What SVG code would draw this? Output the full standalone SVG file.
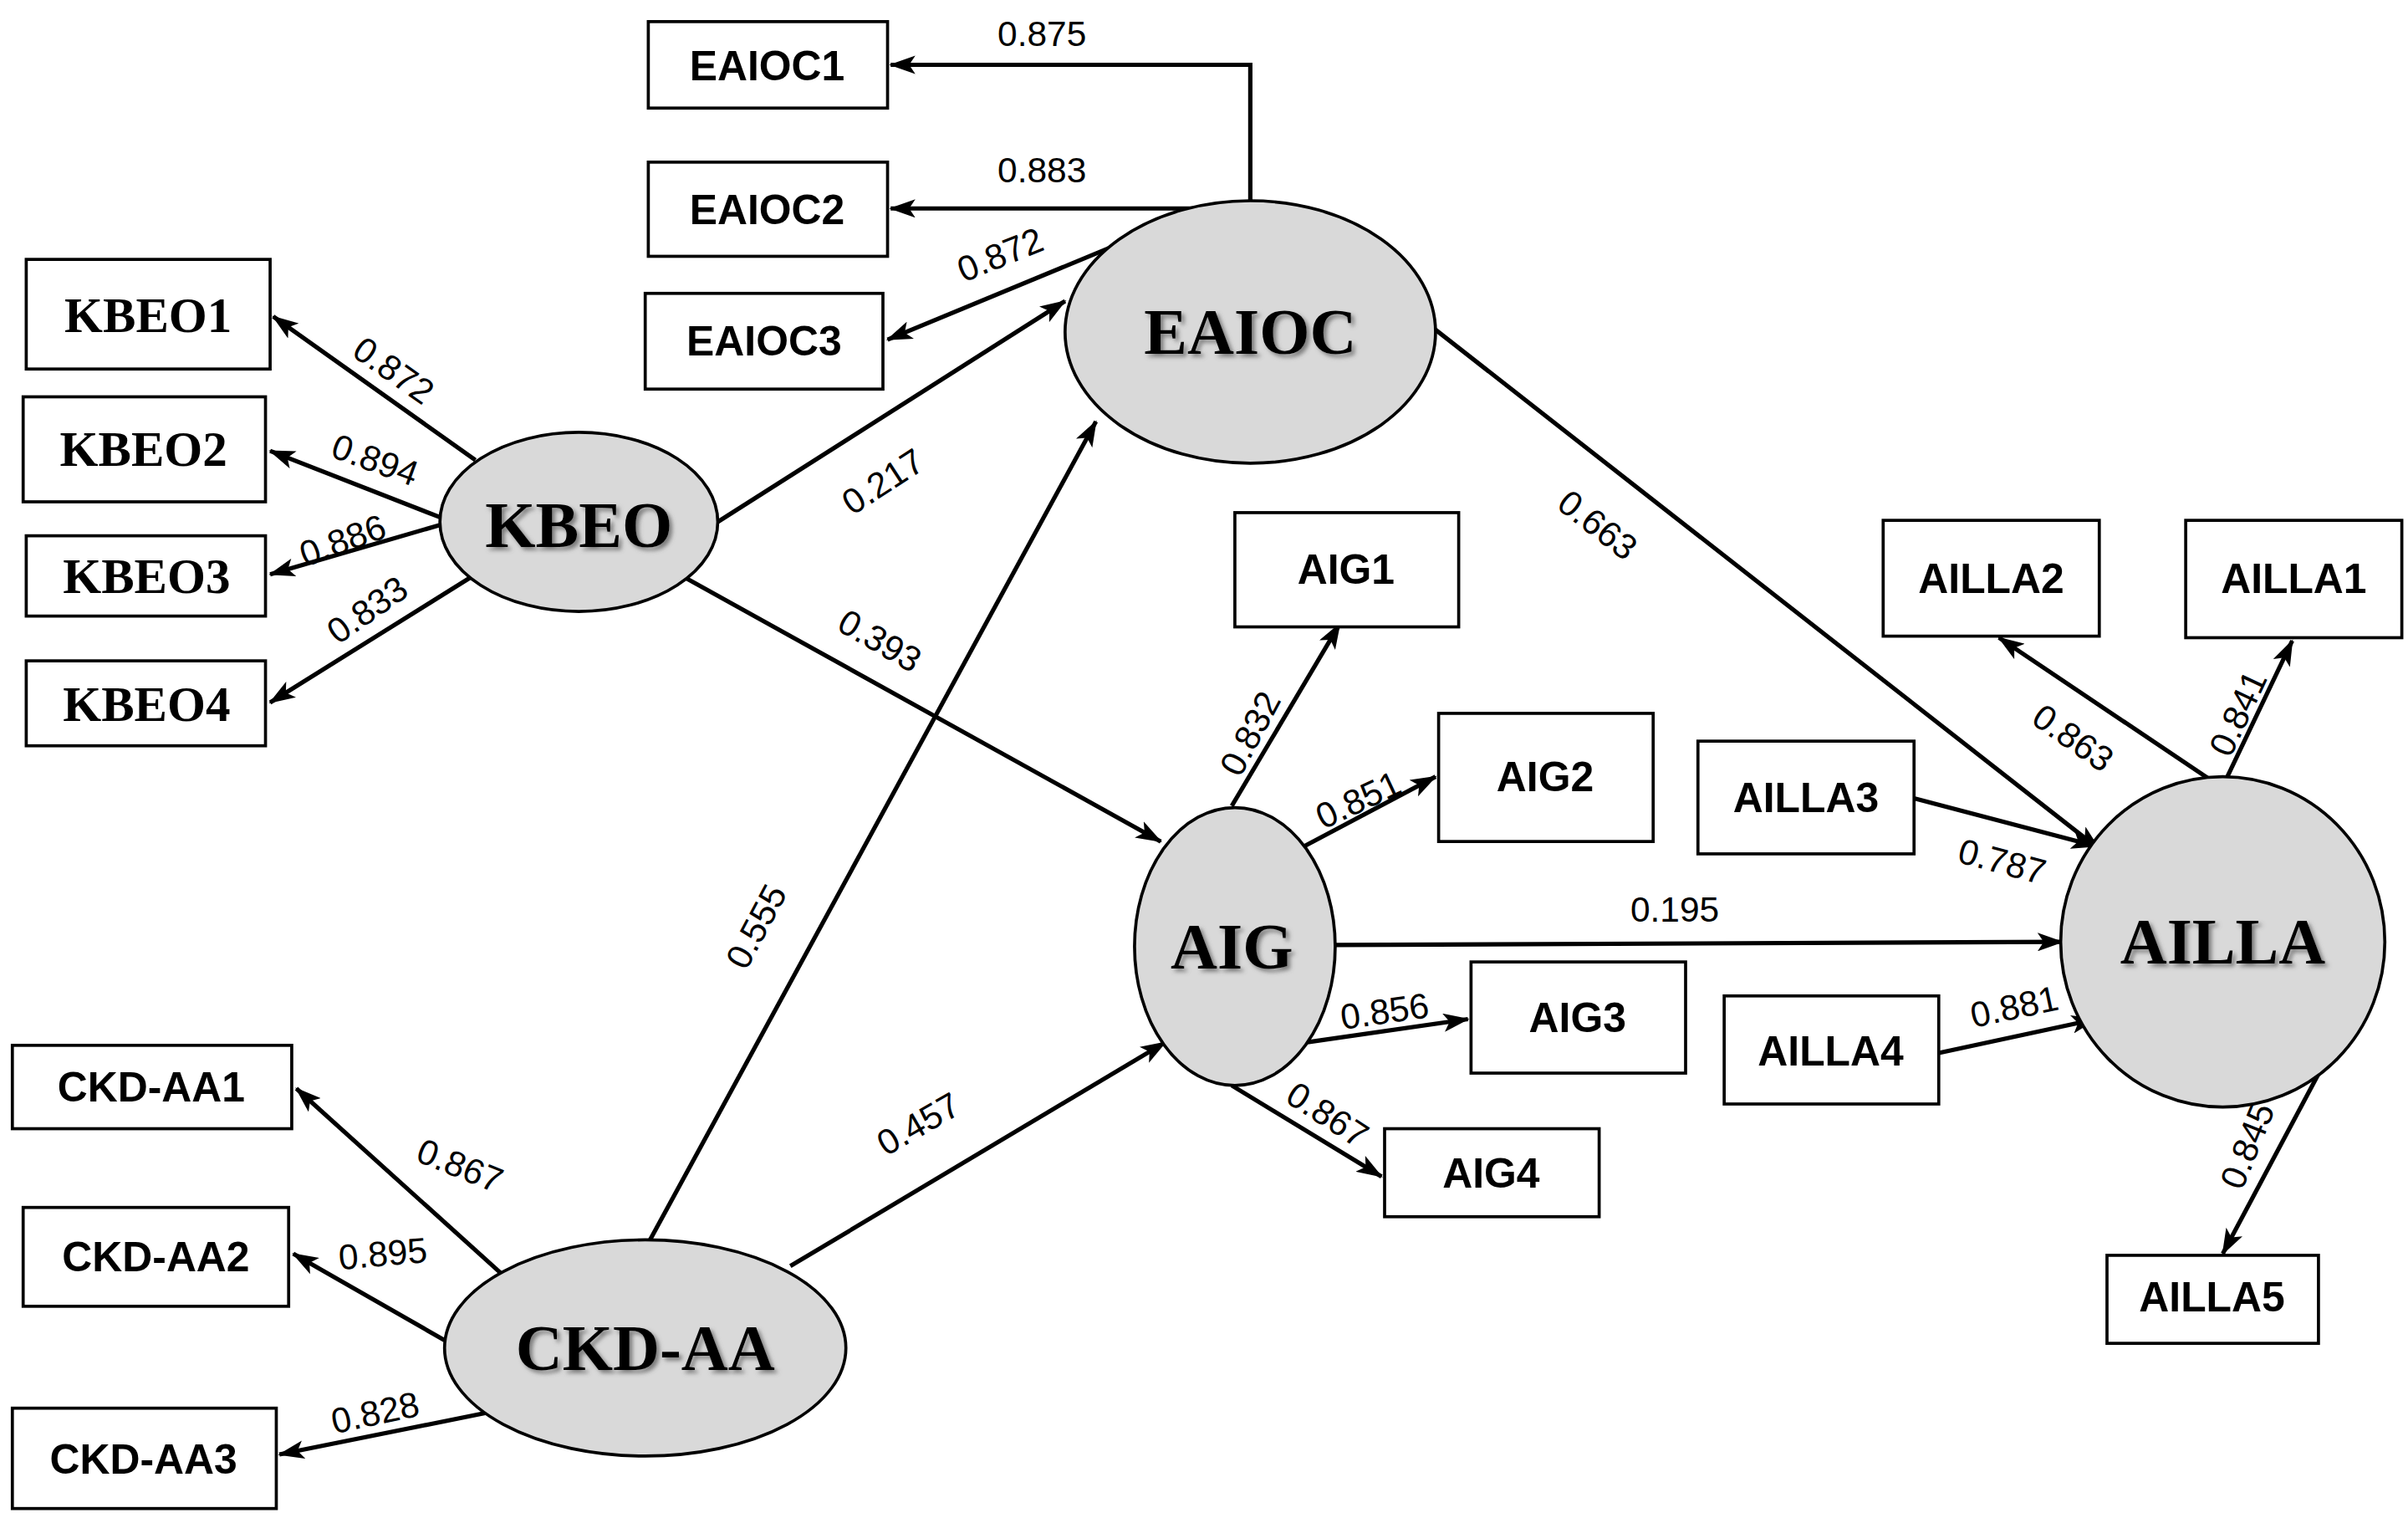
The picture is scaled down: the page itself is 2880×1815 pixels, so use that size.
<svg xmlns="http://www.w3.org/2000/svg" width="2880" height="1815" viewBox="0 0 2880 1815">
<style>
.box{fill:#fff;stroke:#000;stroke-width:2}
.bt{font-family:"Liberation Sans",Arial,sans-serif;font-weight:bold;font-size:27px;text-anchor:middle;dominant-baseline:central}
.bs{font-family:"Liberation Serif","Times New Roman",serif;font-weight:bold;font-size:32px;text-anchor:middle;dominant-baseline:central}
.ell{fill:#d9d9d9;stroke:#000;stroke-width:2}
.et{font-family:"Liberation Serif","Times New Roman",serif;font-weight:bold;font-size:42px;text-anchor:middle;dominant-baseline:central;filter:url(#sh)}
.c{stroke:#000;stroke-width:2.8;fill:none;marker-end:url(#ah)}
.l{font-family:"Liberation Sans",Arial,sans-serif;font-size:23px;text-anchor:middle;dominant-baseline:central}
</style>
<defs>
<marker id="ah" markerUnits="userSpaceOnUse" markerWidth="18" markerHeight="12" refX="16" refY="6" orient="auto"><path d="M0,0 L17,6 L0,12 L4,6 Z" fill="#000"/></marker>
<filter id="sh" x="-10%" y="-10%" width="130%" height="130%"><feDropShadow dx="2" dy="2" stdDeviation="1.5" flood-color="#555" flood-opacity="0.7"/></filter>
</defs>
<rect width="2880" height="1815" fill="#fff"/>
<g transform="scale(1.84615)">
<g id="connectors">
<path class="c" d="M810,135 L810,42 L577,42"/>
<path class="c" d="M810,135 L577,135"/>
<path class="c" d="M725,158 L575,220"/>
<path class="c" d="M308,298 L177,205"/>
<path class="c" d="M285,335 L175,292"/>
<path class="c" d="M285,340 L175,372"/>
<path class="c" d="M308,372 L175,455"/>
<path class="c" d="M465,338 L690,195"/>
<path class="c" d="M440,372 L752,545"/>
<path class="c" d="M420,805 L710,273"/>
<path class="c" d="M512,820 L755,675"/>
<path class="c" d="M325,825 L192,705"/>
<path class="c" d="M288,868 L190,812"/>
<path class="c" d="M315,915 L181,942"/>
<path class="c" d="M798,522 L868,404"/>
<path class="c" d="M845,548 L930,503"/>
<path class="c" d="M847,675 L951,660"/>
<path class="c" d="M798,703 L895,762"/>
<path class="c" d="M865,612 L1336,610"/>
<path class="c" d="M928,212 L1360,550"/>
<path class="c" d="M1240,517 L1358,548"/>
<path class="c" d="M1256,682 L1358,660"/>
<path class="c" d="M1432,505 L1295,413"/>
<path class="c" d="M1442,505 L1485,415"/>
<path class="c" d="M1522,658 L1440,812"/>
<text class="l" x="675" y="22">0.875</text>
<text class="l" x="675" y="110">0.883</text>
<text class="l" transform="translate(648,165) rotate(-22)">0.872</text>
<text class="l" transform="translate(255,240) rotate(35)">0.872</text>
<text class="l" transform="translate(243,298) rotate(20)">0.894</text>
<text class="l" transform="translate(222,350) rotate(-20)">0.886</text>
<text class="l" transform="translate(238,395) rotate(-35)">0.833</text>
<text class="l" transform="translate(572,312) rotate(-33)">0.217</text>
<text class="l" transform="translate(570,415) rotate(30)">0.393</text>
<text class="l" transform="translate(490,600) rotate(-62)">0.555</text>
<text class="l" transform="translate(595,728) rotate(-30)">0.457</text>
<text class="l" transform="translate(298,755) rotate(22)">0.867</text>
<text class="l" transform="translate(248,812) rotate(-5)">0.895</text>
<text class="l" transform="translate(243,915) rotate(-12)">0.828</text>
<text class="l" transform="translate(810,475) rotate(-62)">0.832</text>
<text class="l" transform="translate(880,518) rotate(-25)">0.851</text>
<text class="l" transform="translate(897,655) rotate(-8)">0.856</text>
<text class="l" transform="translate(860,722) rotate(33)">0.867</text>
<text class="l" x="1085" y="589">0.195</text>
<text class="l" transform="translate(1035,340) rotate(38)">0.663</text>
<text class="l" transform="translate(1297,558) rotate(15)">0.787</text>
<text class="l" transform="translate(1305,652) rotate(-12)">0.881</text>
<text class="l" transform="translate(1343,478) rotate(35)">0.863</text>
<text class="l" transform="translate(1450,462) rotate(-65)">0.841</text>
<text class="l" transform="translate(1456,742) rotate(-68)">0.845</text>
</g>
<g id="EAIOC1"><rect class="box" x="420" y="14" width="155" height="56"/><text class="bt" x="497" y="43">EAIOC1</text></g>
<g id="EAIOC2"><rect class="box" x="420" y="105" width="155" height="61"/><text class="bt" x="497" y="136">EAIOC2</text></g>
<g id="EAIOC3"><rect class="box" x="418" y="190" width="154" height="62"/><text class="bt" x="495" y="221">EAIOC3</text></g>
<g id="KBEO1"><rect class="box" x="17" y="168" width="158" height="71"/><text class="bs" x="96" y="204">KBEO1</text></g>
<g id="KBEO2"><rect class="box" x="15" y="257" width="157" height="68"/><text class="bs" x="93" y="291">KBEO2</text></g>
<g id="KBEO3"><rect class="box" x="17" y="347" width="155" height="52"/><text class="bs" x="95" y="373">KBEO3</text></g>
<g id="KBEO4"><rect class="box" x="17" y="428" width="155" height="55"/><text class="bs" x="95" y="456">KBEO4</text></g>
<g id="CKD-AA1"><rect class="box" x="8" y="677" width="181" height="54"/><text class="bt" x="98" y="704">CKD-AA1</text></g>
<g id="CKD-AA2"><rect class="box" x="15" y="782" width="172" height="64"/><text class="bt" x="101" y="814">CKD-AA2</text></g>
<g id="CKD-AA3"><rect class="box" x="8" y="912" width="171" height="65"/><text class="bt" x="93" y="945">CKD-AA3</text></g>
<g id="AIG1"><rect class="box" x="800" y="332" width="145" height="74"/><text class="bt" x="872" y="369">AIG1</text></g>
<g id="AIG2"><rect class="box" x="932" y="462" width="139" height="83"/><text class="bt" x="1001" y="503">AIG2</text></g>
<g id="AIG3"><rect class="box" x="953" y="623" width="139" height="72"/><text class="bt" x="1022" y="659">AIG3</text></g>
<g id="AIG4"><rect class="box" x="897" y="731" width="139" height="57"/><text class="bt" x="966" y="760">AIG4</text></g>
<g id="AILLA2"><rect class="box" x="1220" y="337" width="140" height="75"/><text class="bt" x="1290" y="375">AILLA2</text></g>
<g id="AILLA1"><rect class="box" x="1416" y="337" width="140" height="76"/><text class="bt" x="1486" y="375">AILLA1</text></g>
<g id="AILLA3"><rect class="box" x="1100" y="480" width="140" height="73"/><text class="bt" x="1170" y="517">AILLA3</text></g>
<g id="AILLA4"><rect class="box" x="1117" y="645" width="139" height="70"/><text class="bt" x="1186" y="681">AILLA4</text></g>
<g id="AILLA5"><rect class="box" x="1365" y="813" width="137" height="57"/><text class="bt" x="1433" y="840">AILLA5</text></g>
<g id="EAIOC"><ellipse class="ell" cx="810" cy="215" rx="120" ry="85"/><text class="et" x="810" y="215">EAIOC</text></g>
<g id="KBEO"><ellipse class="ell" cx="375" cy="338" rx="90" ry="58"/><text class="et" x="375" y="340">KBEO</text></g>
<g id="AIG"><ellipse class="ell" cx="800" cy="613" rx="65" ry="90"/><text class="et" x="798" y="613">AIG</text></g>
<g id="AILLA"><ellipse class="ell" cx="1440" cy="610" rx="105" ry="107"/><text class="et" x="1440" y="610">AILLA</text></g>
<g id="CKD-AA"><ellipse class="ell" cx="418" cy="873" rx="130" ry="70"/><text class="et" x="418" y="873">CKD-AA</text></g>
</g>
</svg>
